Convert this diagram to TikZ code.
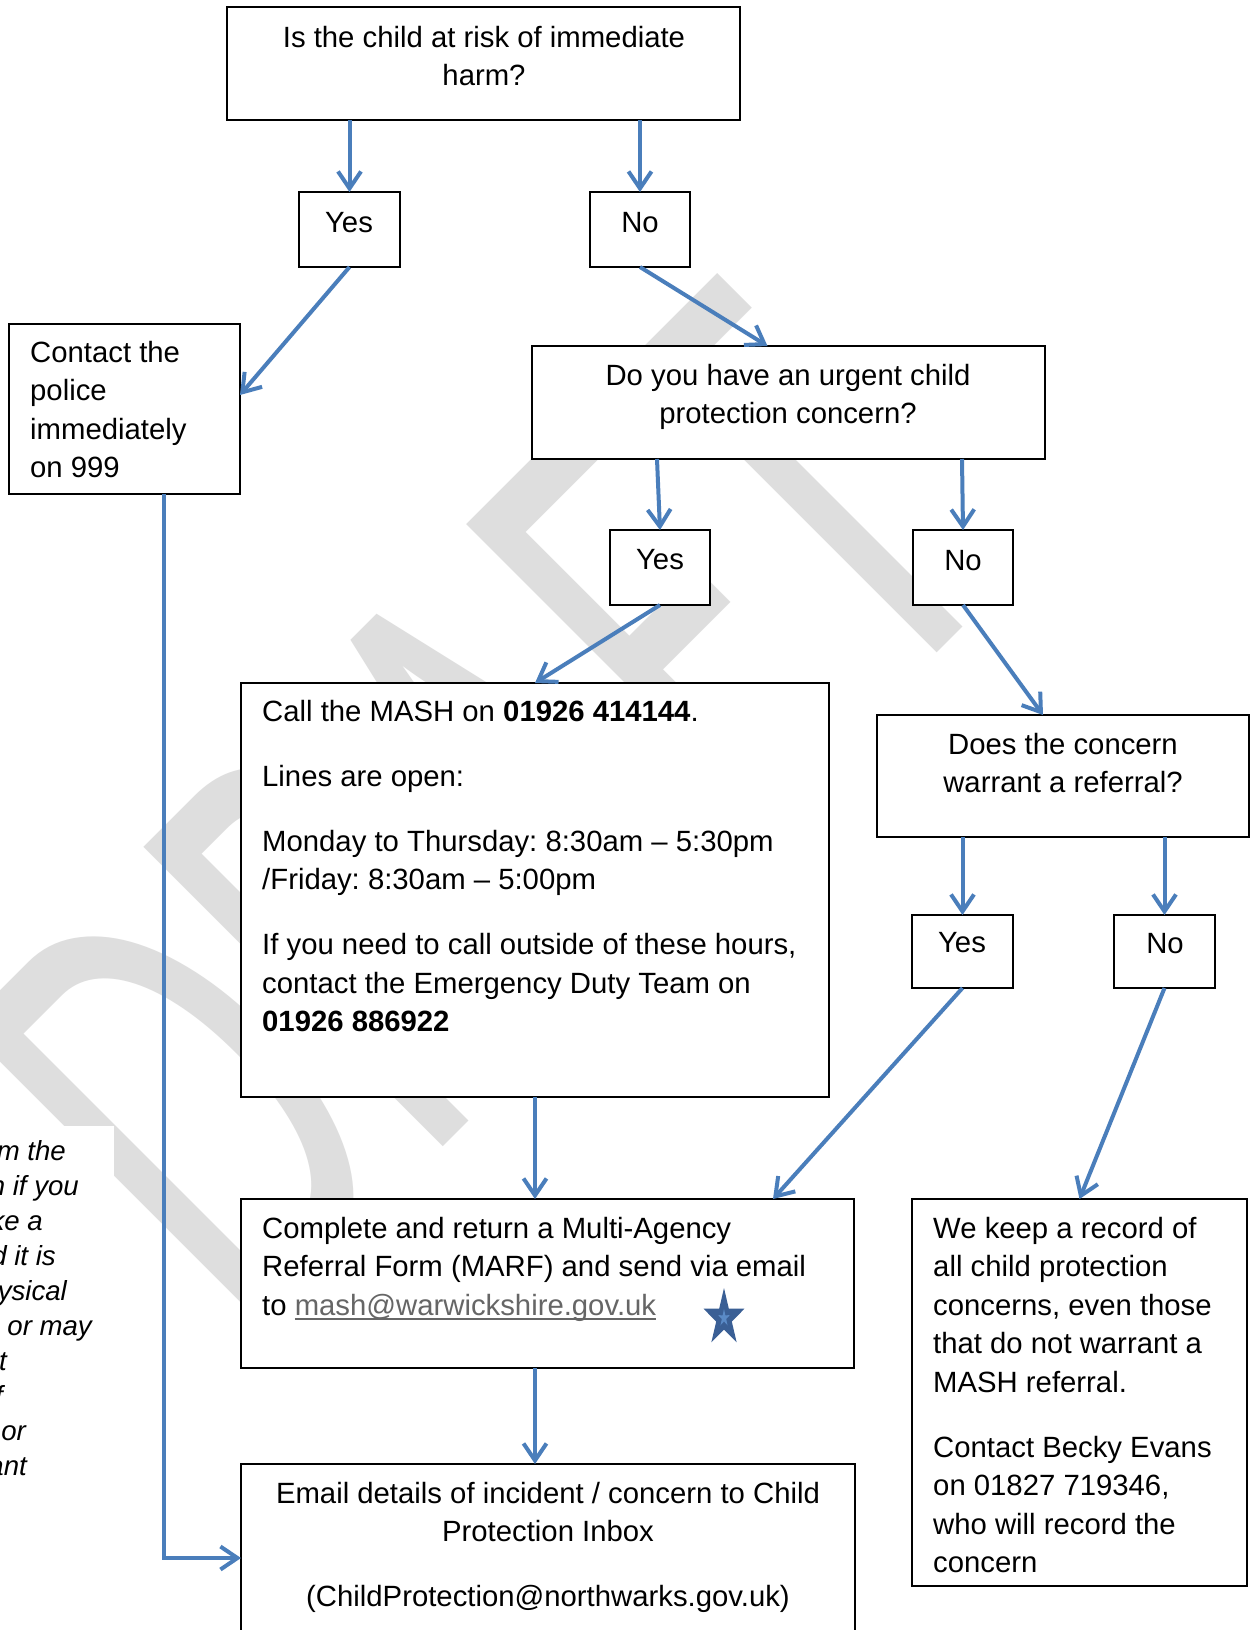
\documentclass[tikz,border=0pt]{standalone}
\usepackage{graphicx}
\usepackage{fontspec}
\setmainfont{Liberation Sans}
\newfontfamily\wmfont{Carlito}
\usetikzlibrary{arrows.meta,calc}
\definecolor{arrowblue}{HTML}{4A7EBB}
\definecolor{wmgrey}{HTML}{DEDEDE}
\definecolor{stardark}{HTML}{3A5F95}
\definecolor{starlight}{HTML}{5A8AC6}
\definecolor{linkgrey}{HTML}{666666}
\newcommand\clines[1]{\vtop{\halign{\hfil##\hfil\cr#1\crcr}}}
\newcommand\llines[1]{\vtop{\halign{##\hfil\cr#1\crcr}}}
\newcommand\pgap{\noalign{\vskip 26.5pt}}
\newcommand\myul[1]{\setbox0\hbox{#1}\rlap{\rule[-5pt]{\wd0}{2pt}}\box0}
\frenchspacing
\begin{document}
\begin{tikzpicture}[x=1pt,y=-1pt,
  box/.style={draw=black, line width=2pt, fill=white, inner sep=0pt, outer sep=0pt, anchor=north west},
  txt/.style={inner sep=0pt, font=\fontsize{29.3}{38.5}\selectfont},
  note/.style={inner sep=0pt, anchor=base east, font=\fontsize{27.6}{35}\selectfont\itshape},
  arr/.style={draw=arrowblue, line width=4pt, -{Straight Barb[length=17pt,width=23pt]}}]
\useasboundingbox (0,0) rectangle (1255,1630);
\fill[white] (0,0) rectangle (1255,1630);
% watermark
\node[rotate=45, anchor=base west, text=wmgrey, inner sep=0pt] (wm) at (244,1346)
  {\scalebox{0.62}[1]{\wmfont\fontsize{660}{660}\selectfont DRAFT}};
% side note (clipped by page edge)
\node[fill=white, inner sep=0pt, anchor=north west, minimum width=130pt, minimum height=520pt] (notebox) at (-16,1126) {};
\node[note] (n1) at (66,1160) {rm the};
\node[note] (n2) at (79,1195) {n if you};
\node[note] (n3) at (43,1230) {ke a};
\node[note] (n4) at (56,1265) {d it is};
\node[note] (n5) at (67,1300) {ysical};
\node[note] (n6) at (92,1335) {, or may};
\node[note] (n7) at (7,1370) {t};
\node[note] (n8) at (3,1405) {f};
\node[note] (n9) at (26,1440) {or};
\node[note] (n10) at (27,1475) {ant};
% boxes
\node[box, minimum width=513pt, minimum height=113pt] (q1) at (227,7) {};
\node[box, minimum width=101pt, minimum height=75pt] (y1) at (299,192) {};
\node[box, minimum width=100pt, minimum height=75pt] (no1) at (590,192) {};
\node[box, minimum width=231pt, minimum height=170pt] (police) at (9,324) {};
\node[box, minimum width=513pt, minimum height=113pt] (urgent) at (532,346) {};
\node[box, minimum width=100pt, minimum height=75pt] (y2) at (610,530) {};
\node[box, minimum width=100pt, minimum height=75pt] (no2) at (913,530) {};
\node[box, minimum width=588pt, minimum height=414pt] (mash) at (241,683) {};
\node[box, minimum width=372pt, minimum height=122pt] (ref) at (877,715) {};
\node[box, minimum width=101pt, minimum height=73pt] (y3) at (912,915) {};
\node[box, minimum width=101pt, minimum height=73pt] (no3) at (1114,915) {};
\node[box, minimum width=613pt, minimum height=169pt] (marf) at (241,1199) {};
\node[box, minimum width=335pt, minimum height=387pt] (record) at (912,1199) {};
\node[box, minimum width=614pt, minimum height=188pt] (email) at (241,1464) {};
% texts
\node[txt, anchor=base] (q1t) at (484,47) {\clines{Is the child at risk of immediate\cr harm?}};
\node[txt, anchor=base] (y1t) at (349,232) {Yes};
\node[txt, anchor=base] (no1t) at (640,232) {No};
\node[txt, anchor=base west] (policet) at (30,362) {\llines{Contact the\cr police\cr immediately\cr on 999}};
\node[txt, anchor=base] (urgentt) at (788,385) {\clines{Do you have an urgent child\cr protection concern?}};
\node[txt, anchor=base] (y2t) at (660,569) {Yes};
\node[txt, anchor=base] (no2t) at (963,570) {No};
\node[txt, anchor=base west] (masht) at (262,721) {\llines{Call the MASH on \textbf{01926 414144}.\cr\pgap
Lines are open:\cr\pgap
Monday to Thursday: 8:30am -- 5:30pm\cr
/Friday: 8:30am -- 5:00pm\cr\pgap
If you need to call outside of these hours,\cr
contact the Emergency Duty Team on\cr
\textbf{01926 886922}}};
\node[txt, anchor=base] (reft) at (1063,754) {\clines{Does the concern\cr warrant a referral?}};
\node[txt, anchor=base] (y3t) at (962,952) {Yes};
\node[txt, anchor=base] (no3t) at (1165,953) {No};
\node[txt, anchor=base west] (marft) at (262,1238) {\llines{Complete and return a Multi-Agency\cr
Referral Form (MARF) and send via email\cr
to \textcolor{linkgrey}{\myul{mash@warwickshire.gov.uk}}}};
\node[txt, anchor=base west] (recordt) at (933,1238) {\llines{We keep a record of\cr
all child protection\cr concerns, even those\cr that do not warrant a\cr MASH referral.\cr\pgap
Contact Becky Evans\cr on 01827 719346,\cr who will record the\cr concern}};
\node[txt, anchor=base] (emailt) at (548,1503) {\clines{Email details of incident / concern to Child\cr
Protection Inbox\cr\pgap (ChildProtection@northwarks.gov.uk)}};
% star
\begin{scope}[shift={(724,1318)}]
\fill[stardark] (-90:21.5 and 30) -- (-54:8.2 and 11.5) -- (-18:21.5 and 30) -- (18:8.2 and 11.5)
  -- (54:21.5 and 30) -- (90:8.2 and 11.5) -- (126:21.5 and 30) -- (162:8.2 and 11.5)
  -- (198:21.5 and 30) -- (234:8.2 and 11.5) -- cycle;
\fill[starlight] (-90:6 and 9) -- (-54:2.3 and 3.4) -- (-18:6 and 9) -- (18:2.3 and 3.4)
  -- (54:6 and 9) -- (90:2.3 and 3.4) -- (126:6 and 9) -- (162:2.3 and 3.4)
  -- (198:6 and 9) -- (234:2.3 and 3.4) -- cycle;
\end{scope}
% connectors
\draw[arr] (q1.south -| y1) -- (y1.north);
\draw[arr] (q1.south -| no1) -- (no1.north);
\draw[arr] (y1.south) -- ($(police.east)+(0,-14)$);
\draw[arr] (no1.south) -- ($(urgent.north)+(-21,0)$);
\draw[arr] ($(urgent.south west)+(125,0)$) -- (y2.north);
\draw[arr] ($(urgent.south west)+(430,0)$) -- (no2.north);
\draw[arr] (y2.south) -- (mash.north);
\draw[arr] (no2.south) -- ($(ref.north)+(-20,0)$);
\draw[arr] (ref.south -| y3) -- (y3.north);
\draw[arr] (ref.south -| no3) -- (no3.north);
\draw[arr] (mash.south) -- (mash.south |- marf.north);
\draw[arr] (y3.south) -- ($(marf.north west)+(532,0)$);
\draw[arr] (no3.south) -- (record.north);
\draw[arr] (mash.south |- marf.south) -- (mash.south |- email.north);
\draw[arr] ($(police.south west)+(155,0)$) |- (email.west);
\end{tikzpicture}
\end{document}
